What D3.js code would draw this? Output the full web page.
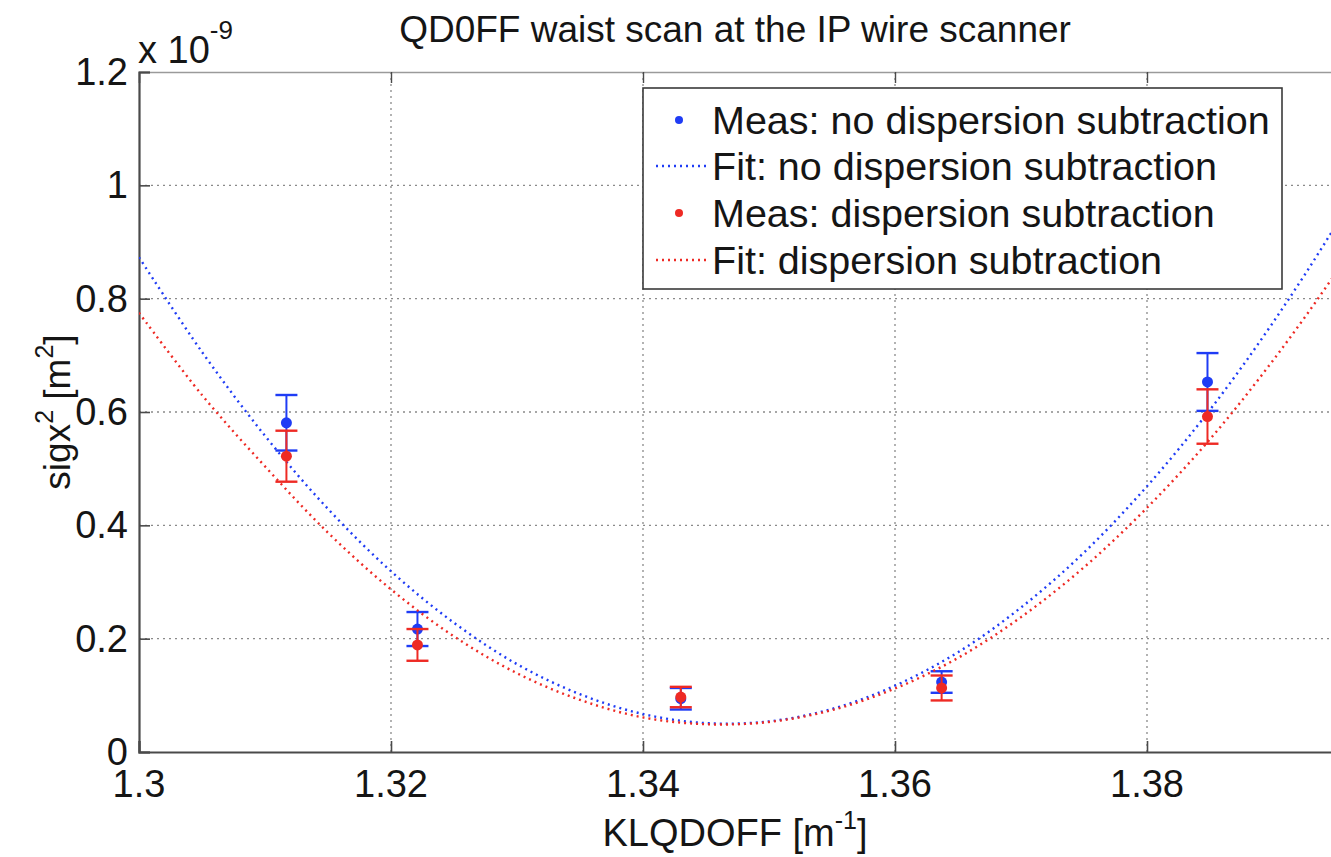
<!DOCTYPE html>
<html>
<head>
<meta charset="utf-8">
<script src="https://cdn.jsdelivr.net/npm/d3@7"></script>
<style>
  body { margin: 0; background: #fff; }
  svg { display: block; }
  text { font-family: "Liberation Sans", Arial, Helvetica, sans-serif; fill: #151515; }
</style>
</head>
<body>
<svg id="chart" width="1331" height="857"></svg>
<script>
// Quadrupole strength settings of the waist scan [1/m]
const kMeas = [1.3117, 1.3221, 1.3430, 1.3637, 1.3848];
// Measured sigx^2 (units of 1e-9 m^2) and error bars
const sigNoDisp = [0.581, 0.217, 0.094, 0.1235, 0.653];
const errNoDisp = [0.049, 0.030, 0.019, 0.019, 0.051];
const sigDisp   = [0.522, 0.189, 0.097, 0.113, 0.592];
const errDisp   = [0.045, 0.028, 0.018, 0.022, 0.048];

// Fitted parabolas, sampled along the scan range
const kFit = [1.300, 1.305, 1.310, 1.315, 1.320, 1.325, 1.330, 1.335, 1.340, 1.345, 1.350,
              1.355, 1.360, 1.365, 1.370, 1.375, 1.380, 1.385, 1.390, 1.395, 1.400];
const fitNoDisp = [0.873, 0.706, 0.558, 0.429, 0.319, 0.228, 0.155, 0.102, 0.067, 0.051, 0.054,
                   0.076, 0.117, 0.176, 0.255, 0.352, 0.469, 0.604, 0.758, 0.930, 1.122];
const fitDisp   = [0.775, 0.630, 0.504, 0.387, 0.287, 0.204, 0.139, 0.092, 0.061, 0.049, 0.053,
                   0.074, 0.112, 0.166, 0.238, 0.326, 0.431, 0.552, 0.691, 0.846, 1.018];

const xTicks = [1.30, 1.32, 1.34, 1.36, 1.38];
const xTickLabels = ["1.3", "1.32", "1.34", "1.36", "1.38"];
const yTicks = [0, 0.2, 0.4, 0.6, 0.8, 1.0, 1.2];
const yTickLabels = ["0", "0.2", "0.4", "0.6", "0.8", "1", "1.2"];

const legendLabels = [
  "Meas: no dispersion subtraction",
  "Fit: no dispersion subtraction",
  "Meas: dispersion subtraction",
  "Fit: dispersion subtraction"
];

const BLUE = "#1f3cf5";
const RED = "#ee2a24";

const plot = { left: 139, top: 72, bottom: 752, right: 1331 };

const svg = d3.select("#chart");

const x = d3.scaleLinear().domain([1.3, 1.4]).range([plot.left, plot.left + 1260]);
const y = d3.scaleLinear().domain([0, 1.2]).range([plot.bottom, plot.top]);

svg.append("defs").append("clipPath").attr("id", "plotClip")
  .append("rect")
  .attr("x", plot.left).attr("y", plot.top)
  .attr("width", plot.right - plot.left).attr("height", plot.bottom - plot.top);

// grid
const grid = svg.append("g").attr("stroke", "#8a8a8a").attr("stroke-width", 1.3)
  .attr("stroke-dasharray", "2,4");
grid.selectAll("line.gx").data(xTicks.slice(1)).join("line")
  .attr("x1", d => x(d)).attr("x2", d => x(d))
  .attr("y1", plot.top).attr("y2", plot.bottom);
grid.selectAll("line.gy").data(yTicks.slice(1, -1)).join("line")
  .attr("x1", plot.left).attr("x2", plot.right)
  .attr("y1", d => y(d)).attr("y2", d => y(d));

// axes: bottom and left with inward ticks, plus the top box edge
const xAxis = d3.axisBottom(x).tickValues(xTicks).tickSize(-11).tickFormat("");
const yAxis = d3.axisLeft(y).tickValues(yTicks).tickSize(-11).tickFormat("");
const xAxisTop = d3.axisTop(x).tickValues(xTicks).tickSize(-11).tickFormat("");

const gx = svg.append("g").attr("transform", `translate(0,${plot.bottom})`).call(xAxis);
const gxt = svg.append("g").attr("transform", `translate(0,${plot.top})`).call(xAxisTop);
const gy = svg.append("g").attr("transform", `translate(${plot.left},0)`).call(yAxis);

[gx, gy].forEach(g => {
  g.select(".domain").attr("stroke", "#4a4a4a").attr("stroke-width", 2.2);
  g.selectAll(".tick line").attr("stroke", "#4a4a4a").attr("stroke-width", 1.6);
});
gxt.select(".domain").attr("stroke", "#9a9a9a").attr("stroke-width", 1.4);
gxt.selectAll(".tick line").attr("stroke", "#4a4a4a").attr("stroke-width", 1.4);

// tick labels
svg.append("g").selectAll("text").data(xTicks).join("text")
  .attr("x", d => x(d)).attr("y", 797)
  .attr("text-anchor", "middle").attr("font-size", 38)
  .text((d, i) => xTickLabels[i]);
svg.append("g").selectAll("text").data(yTicks).join("text")
  .attr("x", 128).attr("y", d => y(d) + 13)
  .attr("text-anchor", "end").attr("font-size", 38)
  .text((d, i) => yTickLabels[i]);

// exponent label
const expo = svg.append("text").attr("x", 138).attr("y", 63).attr("font-size", 38);
expo.append("tspan").text("x 10");
expo.append("tspan").attr("font-size", 26).attr("dy", -24).text("-9");

// title
svg.append("text").attr("x", 735).attr("y", 42).attr("text-anchor", "middle")
  .attr("font-size", 37).text("QD0FF waist scan at the IP wire scanner");

// x label
const xl = svg.append("text").attr("x", 735).attr("y", 846).attr("text-anchor", "middle")
  .attr("font-size", 38);
xl.append("tspan").text("KLQDOFF [m");
xl.append("tspan").attr("font-size", 25).attr("dy", -17).text("-1");
xl.append("tspan").attr("dy", 17).text("]");

// y label
const yl = svg.append("text").attr("transform", `translate(70,${(plot.top + plot.bottom) / 2}) rotate(-90)`)
  .attr("text-anchor", "middle").attr("font-size", 37);
yl.append("tspan").text("sigx");
yl.append("tspan").attr("font-size", 25).attr("dy", -17).text("2");
yl.append("tspan").attr("dy", 17).text(" [m");
yl.append("tspan").attr("font-size", 25).attr("dy", -17).text("2");
yl.append("tspan").attr("dy", 17).text("]");

// data layer
const layer = svg.append("g").attr("clip-path", "url(#plotClip)");

const line = d3.line().x(d => x(d[0])).y(d => y(d[1])).curve(d3.curveCatmullRom);

function drawMeas(vals, errs, color) {
  const g = layer.append("g").attr("stroke", color).attr("fill", color);
  const data = kMeas.map((k, i) => ({ k, v: vals[i], e: errs[i] }));
  g.selectAll("line.bar").data(data).join("line")
    .attr("x1", d => x(d.k)).attr("x2", d => x(d.k))
    .attr("y1", d => y(d.v - d.e)).attr("y2", d => y(d.v + d.e))
    .attr("stroke-width", 2);
  ["lo", "hi"].forEach(side => {
    g.selectAll("line.cap" + side).data(data).join("line")
      .attr("x1", d => x(d.k) - 11).attr("x2", d => x(d.k) + 11)
      .attr("y1", d => y(side === "lo" ? d.v - d.e : d.v + d.e))
      .attr("y2", d => y(side === "lo" ? d.v - d.e : d.v + d.e))
      .attr("stroke-width", 2.4);
  });
  g.selectAll("circle").data(data).join("circle")
    .attr("cx", d => x(d.k)).attr("cy", d => y(d.v)).attr("r", 5.5)
    .attr("stroke", "none");
}

function drawFit(vals, color) {
  layer.append("path")
    .datum(kFit.map((k, i) => [k, vals[i]]))
    .attr("d", line)
    .attr("fill", "none").attr("stroke", color)
    .attr("stroke-width", 2.4).attr("stroke-dasharray", "2,4");
}

drawMeas(sigNoDisp, errNoDisp, BLUE);
drawFit(fitNoDisp, BLUE);
drawMeas(sigDisp, errDisp, RED);
drawFit(fitDisp, RED);

// legend
const lg = svg.append("g");
lg.append("rect").attr("x", 643).attr("y", 88).attr("width", 639).attr("height", 201)
  .attr("fill", "#fff").attr("stroke", "#3a3a3a").attr("stroke-width", 1.6);
const rowsY = [120, 166, 213, 260];
const legendColors = [BLUE, BLUE, RED, RED];
legendLabels.forEach((lab, i) => {
  const yy = rowsY[i];
  if (i % 2 === 0) {
    lg.append("circle").attr("cx", 679).attr("cy", yy).attr("r", 4).attr("fill", legendColors[i]);
  } else {
    lg.append("line").attr("x1", 656).attr("x2", 706).attr("y1", yy).attr("y2", yy)
      .attr("stroke", legendColors[i]).attr("stroke-width", 2.4).attr("stroke-dasharray", "2,4");
  }
  lg.append("text").attr("x", 712).attr("y", yy + 14).attr("font-size", 39.5).text(lab);
});
</script>
</body>
</html>
